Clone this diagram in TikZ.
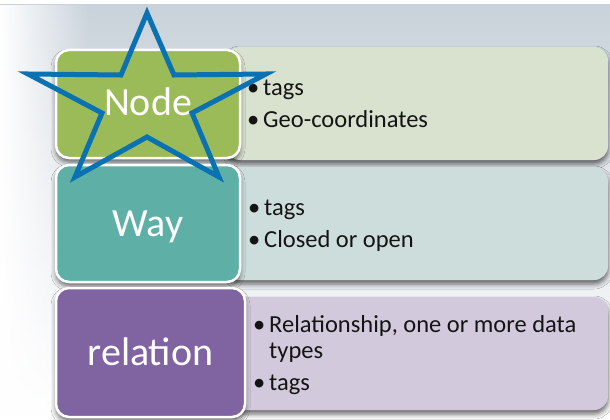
\documentclass[tikz,border=0pt]{standalone}
\usepackage{fontspec}
\setmainfont{Carlito}
\usetikzlibrary{shadows.blur,fadings}

\definecolor{bgtop}{HTML}{C9D2DA}
\definecolor{nodegreen}{HTML}{9BBB59}
\definecolor{nodepale}{HTML}{D9E2CF}
\definecolor{wayteal}{HTML}{5EB0A6}
\definecolor{waypale}{HTML}{CCDDDB}
\definecolor{relpurple}{HTML}{8064A2}
\definecolor{relpale}{HTML}{D2CADC}
\definecolor{starblue}{HTML}{0A72B2}
\definecolor{textdark}{HTML}{141414}

\tikzset{
  softshadow/.style={blur shadow={shadow xshift=0pt, shadow yshift=-4pt,
    shadow blur radius=5pt, shadow opacity=60}},
  keybox/.style={rectangle, rounded corners=13pt, draw=white, line width=2.5pt,
    minimum width=184pt, inner sep=0pt, softshadow},
  keylabel/.style={anchor=base, text=white, inner sep=0pt,
    font=\fontsize{40}{44}\selectfont},
  panel/.style={rectangle, rounded corners=14pt, inner sep=0pt, softshadow},
  item/.style={anchor=base west, inner sep=0pt, text=textdark,
    font=\fontsize{24.5}{28}\selectfont},
}
\newcommand{\bul}{\makebox[16pt][l]{•}}

\begin{document}
\begin{tikzpicture}[x=1pt, y=-1pt]
  \useasboundingbox (0,0) rectangle (610,420);

  % backdrop
  \fill[white] (0,0) rectangle (610,420);
  \shade[top color=bgtop, bottom color=white] (0,5) rectangle (610,420);
  \fill[white, path fading=east] (0,5) rectangle (90,420);

  % pale description panels (left ends tucked under the coloured boxes)
  \node[panel, fill=nodepale, minimum width=382pt, minimum height=113pt] (nodepanel) at (417,103.5) {};
  \node[panel, fill=waypale,  minimum width=382pt, minimum height=113pt] (waypanel)  at (417,223.5) {};
  \node[panel, fill=relpale,  minimum width=382pt, minimum height=113pt] (relpanel)  at (417,353.5) {};

  % coloured key boxes
  \node[keybox, fill=nodegreen, minimum height=108pt] (nodekey) at (148,104) {};
  \node[keybox, fill=wayteal,   minimum height=117pt] (waykey)  at (148,223.5) {};
  \node[keybox, fill=relpurple, minimum width=189pt, minimum height=129pt] (relkey) at (150.5,352.5) {};

  \node[keylabel] (nodelbl) at (148,115) {Node};
  \node[keylabel] (waylbl)  at (148,236) {Way};
  \node[keylabel] (rellbl)  at (150.5,365) {relation};

  % bullet lists
  \node[item] (n1) at (247,95)  {\bul tags};
  \node[item] (n2) at (247,127) {\bul Geo-coordinates};
  \node[item] (w1) at (248,215) {\bul tags};
  \node[item] (w2) at (248,247) {\bul Closed or open};
  \node[item] (r1) at (253,332) {\bul Relationship, one or more data};
  \node[item] (r2) at (269,358) {types};
  \node[item] (r3) at (253,390) {\bul tags};

  % star outline over the first box
  \draw[starblue, line width=5pt, line join=miter, miter limit=10]
    (147,13) -- (174,75) -- (266,74) -- (192,113) -- (219,177) -- (147,137)
    -- (75,177) -- (102,113) -- (28,74) -- (121,75) -- cycle;
\end{tikzpicture}
\end{document}
